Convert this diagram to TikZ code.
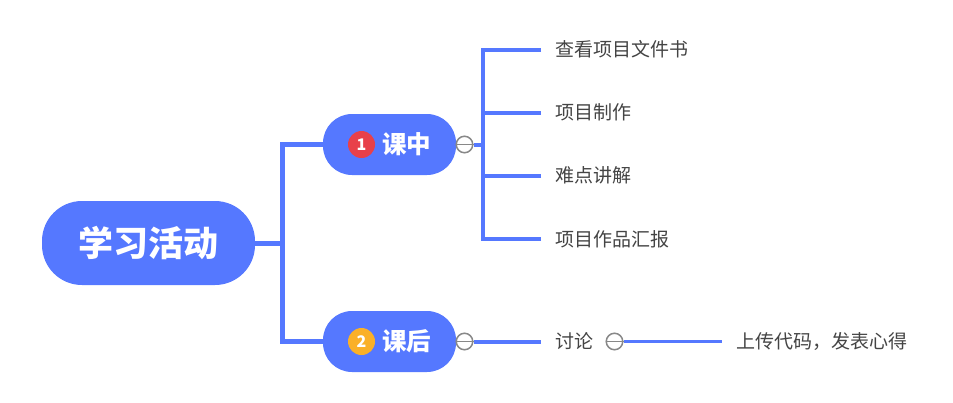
\documentclass[tikz,border=0pt]{standalone}
\usepackage{fontspec}
\setmainfont{Noto Sans CJK SC}
\definecolor{mapblue}{RGB}{85,120,255}
\definecolor{leaftext}{RGB}{68,68,68}
\definecolor{togglegrey}{RGB}{136,136,136}
\definecolor{badgered}{RGB}{232,64,74}
\definecolor{badgeorange}{RGB}{250,176,40}
\tikzset{
  rootbox/.style={fill=mapblue,rounded corners=40pt,minimum width=213pt,minimum height=84pt,inner sep=0pt,text=white,font=\fontsize{35}{35}\selectfont\bfseries},
  childbox/.style={fill=mapblue,rounded corners=29pt,minimum width=133pt,minimum height=61pt,inner sep=0pt},
  childtext/.style={text=white,inner sep=0pt,font=\fontsize{24.5}{24.5}\selectfont\bfseries},
  badge/.style={circle,minimum size=27pt,inner sep=0pt,text=white,font=\fontsize{16}{16}\selectfont\bfseries},
  leaf/.style={anchor=west,inner xsep=14pt,inner ysep=0pt,text=leaftext,font=\fontsize{19}{19}\selectfont},
  toggle/.style={circle,draw=togglegrey,fill=white,line width=1.5pt,minimum size=16.5pt,inner sep=0pt},
  conn/.style={draw=mapblue,line width=5pt},
  subconn/.style={draw=mapblue,line width=4pt},
  thinconn/.style={draw=mapblue,line width=2.5pt},
  togglebar/.style={draw=togglegrey,line width=1.5pt}
}
\begin{document}
\begin{tikzpicture}[x=1pt,y=-1pt]
\useasboundingbox (0,0) rectangle (953,402);
\coordinate (j0) at (282,243);
\coordinate (j1) at (483,144.5);
\node[leaf] (l1) at (541,49.5) {查看项目文件书};
\node[leaf] (l2) at (541,112.5) {项目制作};
\node[leaf] (l3) at (541,175.5) {难点讲解};
\node[leaf] (l4) at (541,239) {项目作品汇报};
\node[leaf] (l5) at (541,341.5) {讨论};
\node[leaf] (l6) at (722,341.5) {上传代码，发表心得};
\node[childbox] (c1) at (389.5,144.5) {};
\node[childbox] (c2) at (389.5,341.5) {};
\node[rootbox] (root) at (148.5,243) {学习活动};
\node[toggle] (t1) at (464.5,144.5) {};
\node[toggle] (t2) at (464.5,341.5) {};
\node[toggle] (t3) at (614.5,341.5) {};
\draw[togglebar] (t1.west) -- (t1.east);
\draw[togglebar] (t2.west) -- (t2.east);
\draw[togglebar] (t3.west) -- (t3.east);
\node[badge,fill=badgered] (b1) at (361.5,144.5) {1};
\node[badge,fill=badgeorange] (b2) at (361.5,341.5) {2};
\node[childtext] (x1) at (406.5,144.5) {课中};
\node[childtext] (x2) at (406.5,341.5) {课后};
\draw[conn] (root.east) -- (j0);
\draw[conn] (c1.west) -| (j0);
\draw[conn] (c2.west) -| (j0);
\draw[subconn] (t1.east) -- (j1);
\draw[subconn] (l1.west) -| (j1);
\draw[subconn] (l2.west) -| (j1);
\draw[subconn] (l3.west) -| (j1);
\draw[subconn] (l4.west) -| (j1);
\draw[subconn] (t2.east) -- (l5.west);
\draw[thinconn] (t3.east) -- (l6.west);
\end{tikzpicture}
\end{document}
